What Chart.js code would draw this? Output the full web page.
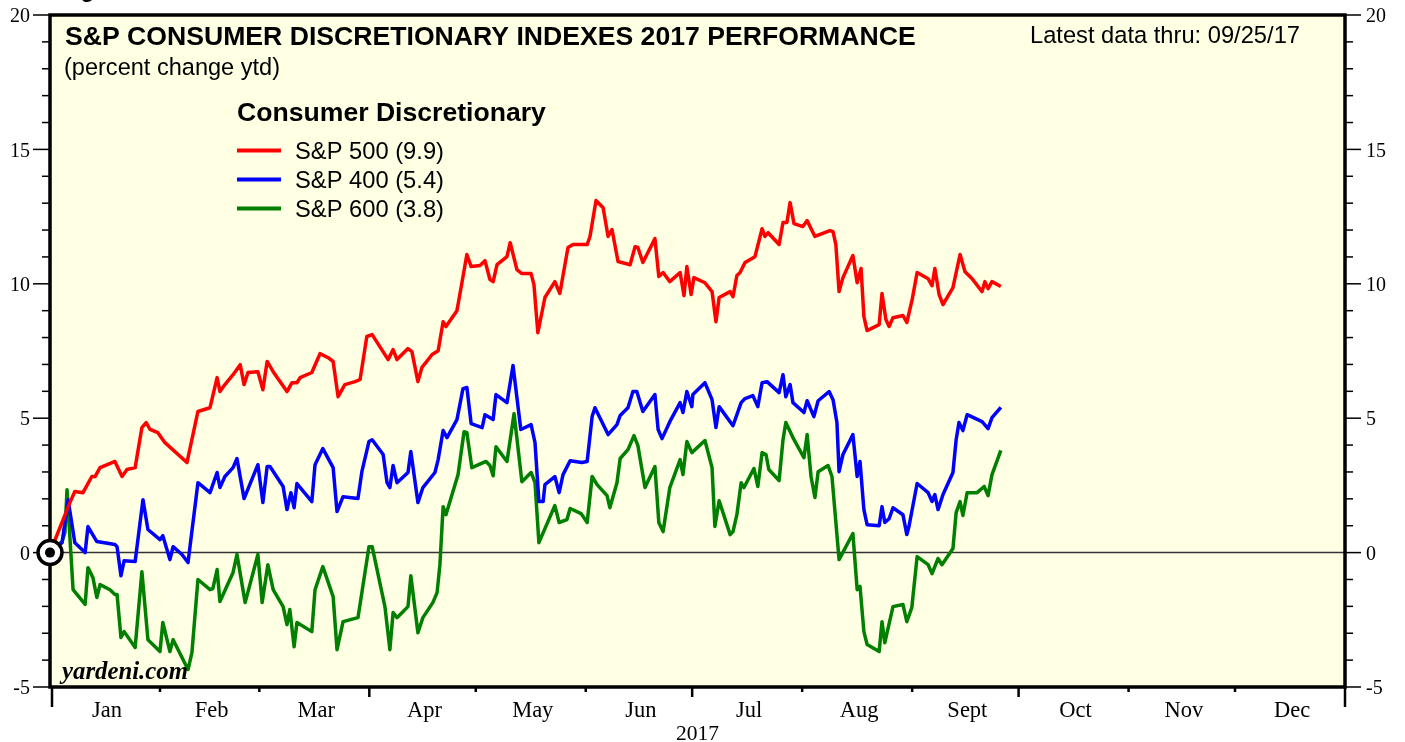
<!DOCTYPE html>
<html>
<head>
<meta charset="utf-8">
<script src="https://cdn.jsdelivr.net/npm/chart.js@4.4.1/dist/chart.umd.min.js"></script>
<style>
  body { margin: 0; background: #fff; }
  #wrap { width: 1405px; height: 742px; }
</style>
</head>
<body>
<div id="wrap"><canvas id="chart" width="1405" height="742"></canvas></div>
<script>
// axis data
const months = ['Jan', 'Feb', 'Mar', 'Apr', 'May', 'Jun', 'Jul', 'Aug', 'Sept', 'Oct', 'Nov', 'Dec'];
const monthStarts = [0, 31, 59, 90, 120, 151, 181, 212, 243, 273, 304, 334, 365];
const yLabels = [-5, 0, 5, 10, 15, 20];
const seriesNames = ['S&P 500 (9.9)', 'S&P 400 (5.4)', 'S&P 600 (3.8)'];
const seriesColors = ['#ff0000', '#0000ff', '#007f00'];

// day of year (Jan 1 = 0) and percent change ytd
const sp500Days = [0, 5.6, 7.0, 9.3, 11.8, 12.7, 14.1, 17.5, 18.3, 20.3, 21.7, 24.0, 25.9, 27.1, 28.2, 30.4, 32.4, 38.6, 41.7, 45.1,
  47.1, 47.9, 49.3, 51.6, 53.6, 54.7, 55.8, 58.6, 60.0, 61.2, 62.9, 66.8, 68.2, 69.6, 70.5, 73.8, 76.1, 78.4, 79.8, 81.2,
  83.1, 86.0, 87.4, 89.3, 90.8, 95.3, 96.7, 97.8, 100.9, 102.0, 103.7, 104.8, 107.7, 109.4, 110.8, 111.6, 114.7, 116.1, 117.5, 118.7,
  121.2, 122.6, 124.0, 124.9, 126.0, 128.8, 129.7, 131.6, 133.0, 135.6, 136.4, 137.5, 139.5, 142.3, 143.7, 146.0, 147.4, 151.4, 152.2, 153.9,
  155.9, 157.3, 158.4, 160.1, 163.5, 164.9, 165.7, 167.1, 170.5, 171.6, 172.8, 174.7, 177.6, 178.7, 179.5, 180.7, 181.5, 184.6, 186.6, 187.7,
  188.6, 191.7, 192.5, 193.6, 194.5, 195.9, 198.7, 200.7, 201.5, 202.4, 205.5, 206.6, 207.7, 208.6, 209.7, 212.2, 213.4, 215.6, 219.8, 220.7,
  221.5, 222.4, 223.5, 226.3, 227.5, 228.6, 229.4, 230.3, 233.7, 234.5, 235.6, 236.5, 237.6, 240.4, 241.5, 243.0, 244.4, 247.5, 248.6, 249.4,
  250.6, 251.7, 254.5, 256.5, 257.9, 259.9, 262.7, 263.5, 264.4, 265.5, 268.0];
const sp500 = [0, 1.86, 2.27, 2.23, 2.83, 2.83, 3.16, 3.35, 3.39, 2.83, 3.09, 3.16, 4.65, 4.84, 4.58, 4.46, 4.09, 3.35, 5.25, 5.39,
  6.51, 5.99, 6.25, 6.62, 6.99, 6.25, 6.70, 6.73, 6.06, 7.11, 6.73, 5.99, 6.32, 6.32, 6.51, 6.70, 7.40, 7.25, 7.11, 5.80,
  6.25, 6.36, 6.44, 8.04, 8.11, 7.18, 7.55, 7.18, 7.59, 7.48, 6.36, 6.88, 7.37, 7.51, 8.59, 8.41, 9.00, 10.04, 11.09, 10.64,
  10.68, 10.86, 10.16, 10.08, 10.71, 11.01, 11.53, 10.53, 10.38, 10.38, 9.97, 8.18, 9.49, 10.08, 9.64, 11.35, 11.46, 11.46, 11.76, 13.10,
  12.83, 11.76, 12.02, 10.83, 10.71, 11.38, 11.35, 10.79, 11.68, 10.27, 10.42, 10.08, 10.42, 9.56, 10.64, 9.60, 10.23, 10.04, 9.71, 8.59,
  9.49, 9.71, 9.52, 10.31, 10.42, 10.79, 11.01, 12.05, 11.76, 11.90, 11.46, 12.28, 12.28, 13.02, 12.24, 12.13, 12.35, 11.76, 11.98, 11.94,
  11.46, 9.71, 10.23, 11.05, 10.04, 10.57, 8.78, 8.26, 8.48, 9.64, 8.67, 8.41, 8.74, 8.82, 8.56, 9.41, 10.42, 10.19, 9.93, 10.57,
  9.60, 9.23, 9.86, 11.09, 10.45, 10.19, 9.71, 10.08, 9.82, 10.08, 9.9];

const sp400Days = [0, 3.4, 5.1, 7.0, 9.9, 10.7, 13.2, 18.3, 18.9, 20.0, 20.9, 24.0, 26.2, 27.6, 31.0, 31.8, 33.8, 34.7, 37.2, 38.9,
  41.7, 45.1, 47.1, 47.9, 49.3, 51.6, 52.7, 54.7, 58.6, 60.0, 61.2, 62.0, 65.7, 66.8, 67.9, 68.8, 69.6, 73.8, 74.7, 76.9,
  79.8, 80.9, 82.6, 86.8, 87.9, 89.9, 90.8, 93.9, 95.0, 95.8, 96.7, 97.8, 100.9, 101.7, 103.7, 105.1, 108.5, 109.4, 110.8, 111.9,
  114.7, 116.4, 117.5, 118.7, 121.8, 122.6, 124.9, 125.7, 128.8, 130.5, 132.7, 135.6, 136.7, 137.8, 139.0, 139.5, 142.3, 143.5, 144.6, 146.6,
  149.9, 151.4, 152.8, 153.6, 157.3, 159.8, 160.7, 162.9, 164.3, 165.4, 167.1, 170.5, 171.4, 172.5, 174.7, 177.6, 178.4, 179.5, 180.9, 181.2,
  184.6, 186.6, 187.7, 188.6, 192.5, 194.8, 195.9, 198.1, 199.5, 200.7, 202.1, 205.5, 206.6, 207.4, 208.6, 209.4, 212.5, 213.4, 215.3, 216.5,
  219.6, 220.7, 221.8, 222.4, 223.5, 226.3, 227.5, 228.3, 229.4, 230.3, 233.7, 234.5, 235.3, 236.5, 237.6, 240.4, 241.5, 242.1, 244.4, 247.5,
  248.6, 249.4, 250.3, 251.7, 254.5, 255.4, 256.2, 257.3, 258.5, 262.7, 264.4, 265.5, 268.0];
const sp400 = [0, 0.37, 1.97, 0.37, 0.00, 0.97, 0.41, 0.30, 0.22, -0.86, -0.30, -0.33, 1.97, 0.86, 0.48, 0.63, -0.26, 0.22, -0.07, -0.37,
  2.60, 2.23, 2.98, 2.42, 2.83, 3.16, 3.50, 2.01, 3.27, 1.86, 3.20, 3.20, 2.46, 1.60, 2.23, 1.67, 2.57, 1.90, 3.27, 3.87,
  3.16, 1.53, 2.08, 2.01, 3.01, 4.13, 4.20, 3.65, 2.60, 2.42, 3.24, 2.60, 2.98, 3.76, 1.86, 2.42, 2.98, 3.46, 4.54, 4.28,
  4.95, 6.10, 6.14, 4.80, 4.65, 5.13, 4.95, 5.88, 5.58, 6.96, 4.58, 4.76, 4.09, 1.90, 1.90, 2.53, 2.83, 2.23, 2.90, 3.42,
  3.35, 3.39, 5.06, 5.39, 4.39, 4.76, 5.10, 5.39, 5.99, 5.99, 5.25, 5.88, 4.58, 4.24, 4.87, 5.58, 5.21, 5.99, 5.43, 5.88,
  6.32, 5.69, 4.65, 5.43, 4.72, 5.58, 5.73, 5.84, 5.43, 6.32, 6.36, 5.95, 6.62, 5.80, 6.25, 5.58, 5.21, 5.65, 5.06, 5.65,
  5.99, 5.69, 4.84, 3.01, 3.65, 4.39, 2.83, 3.39, 1.60, 1.04, 1.00, 1.71, 1.12, 1.26, 1.67, 1.41, 0.67, 0.97, 2.57, 2.23,
  1.90, 2.16, 1.60, 2.16, 2.98, 4.20, 4.84, 4.54, 5.13, 4.87, 4.61, 5.02, 5.4];

const sp600Days = [0, 3.4, 4.2, 4.8, 6.5, 9.9, 10.7, 12.1, 13.2, 14.1, 16.9, 18.3, 18.9, 20.0, 20.9, 24.0, 25.9, 27.6, 31.0, 31.8,
  33.8, 34.7, 38.9, 40.0, 41.7, 45.1, 45.9, 47.1, 47.9, 51.6, 52.7, 55.0, 58.6, 59.8, 61.4, 62.9, 65.7, 66.8, 67.6, 68.8,
  69.6, 73.8, 74.7, 76.9, 79.8, 80.9, 82.6, 86.8, 87.9, 89.9, 90.8, 94.4, 95.8, 96.7, 97.8, 100.9, 101.7, 103.7, 105.1, 107.9,
  109.1, 109.9, 110.8, 111.6, 115.0, 116.7, 117.5, 118.9, 122.9, 124.0, 124.9, 125.7, 128.8, 130.8, 133.0, 135.6, 136.7, 137.8, 142.3, 143.5,
  145.7, 146.6, 149.7, 151.4, 152.8, 154.2, 157.0, 157.8, 159.8, 160.7, 162.9, 164.6, 165.7, 167.7, 170.5, 171.6, 172.8, 174.7, 177.6, 178.4,
  179.5, 180.9, 184.6, 186.6, 187.4, 188.6, 191.7, 192.5, 193.6, 194.8, 195.6, 198.4, 199.5, 200.7, 201.8, 202.6, 205.5, 206.6, 207.4, 209.4,
  212.5, 213.4, 214.5, 215.6, 216.5, 219.3, 220.4, 222.4, 226.3, 227.5, 228.3, 229.4, 230.3, 233.7, 234.5, 235.3, 237.6, 240.4, 241.5, 242.9,
  244.4, 247.5, 248.6, 250.3, 251.4, 254.5, 255.4, 256.5, 257.3, 258.5, 261.3, 263.3, 264.4, 265.5, 268.0];
const sp600 = [0, 0.41, 0.74, 2.34, -1.38, -1.93, -0.56, -0.93, -1.67, -1.19, -1.38, -1.56, -1.56, -3.16, -2.94, -3.53, -0.71, -3.24, -3.68, -2.60,
  -3.68, -3.24, -4.35, -3.72, -1.00, -1.38, -1.34, -0.63, -1.82, -0.74, -0.07, -1.86, -0.07, -1.86, -0.45, -1.38, -2.01, -2.68, -2.12, -3.50,
  -2.60, -2.94, -1.38, -0.52, -1.64, -3.61, -2.57, -2.42, -1.49, 0.22, 0.22, -2.01, -3.61, -2.23, -2.42, -2.01, -0.86, -2.98, -2.42, -1.86,
  -1.49, -0.45, 1.71, 1.41, 2.90, 4.50, 4.46, 3.16, 3.39, 3.24, 2.86, 3.94, 3.39, 5.17, 2.64, 2.98, 2.60, 0.37, 1.75, 1.12,
  1.23, 1.64, 1.45, 1.12, 2.83, 2.53, 2.12, 1.67, 2.60, 3.50, 3.83, 4.35, 3.98, 2.42, 3.20, 1.12, 0.78, 2.42, 3.46, 2.90,
  4.13, 3.72, 4.17, 3.16, 0.97, 1.93, 0.67, 0.78, 1.41, 2.60, 2.42, 3.13, 2.46, 3.72, 3.65, 3.09, 2.68, 4.20, 4.84, 4.28,
  3.53, 4.39, 2.83, 2.05, 3.01, 3.24, 2.83, -0.26, 0.71, -1.38, -1.26, -2.94, -3.42, -3.68, -2.57, -3.35, -2.01, -1.93, -2.57, -2.05,
  -0.15, -0.45, -0.78, -0.22, -0.45, 0.15, 1.49, 1.90, 1.38, 2.23, 2.23, 2.46, 2.12, 2.90, 3.8];

const SANS = '"Liberation Sans", Arial, Helvetica, sans-serif';
const SERIF = '"Liberation Serif", "Times New Roman", serif';

function pairs(days, vals) {
  return days.map((d, i) => ({ x: d, y: vals[i] }));
}

// set a font whose rendered width matches the width measured on the picture
function fitFont(ctx, text, weight, family, width) {
  ctx.font = `${weight} 100px ${family}`;
  const size = 100 * width / ctx.measureText(text).width;
  ctx.font = `${weight} ${size.toFixed(2)}px ${family}`;
  return size;
}

function seg(ctx, x1, y1, x2, y2) {
  ctx.beginPath();
  ctx.moveTo(x1, y1);
  ctx.lineTo(x2, y2);
  ctx.stroke();
}

const decor = {
  id: 'decor',
  beforeDatasetsDraw(chart) {
    const { ctx, chartArea: a, scales: { y } } = chart;
    ctx.save();
    ctx.fillStyle = '#ffffe4';
    ctx.fillRect(a.left, a.top, a.right - a.left, a.bottom - a.top);
    ctx.strokeStyle = '#333';
    ctx.lineWidth = 1.5;
    const y0 = y.getPixelForValue(0);
    seg(ctx, a.left, y0, a.right, y0);
    ctx.restore();
  },
  afterDatasetsDraw(chart) {
    const { ctx, chartArea: a, scales: { x, y } } = chart;
    ctx.save();
    ctx.strokeStyle = '#000';
    ctx.fillStyle = '#000';

    // y ticks, both sides
    ctx.lineWidth = 1.5;
    for (let v = -5; v <= 20; v++) {
      const py = y.getPixelForValue(v);
      const major = v % 5 === 0;
      seg(ctx, a.left - (major ? 17 : 8), py, a.left, py);
      seg(ctx, a.right, py, a.right + (major ? 16 : 8), py);
    }
    ctx.font = `20px ${SERIF}`;
    ctx.textBaseline = 'middle';
    yLabels.forEach(v => {
      const py = y.getPixelForValue(v) + 2;
      ctx.textAlign = 'right';
      ctx.fillText(String(v), 30, py);
      ctx.textAlign = 'left';
      ctx.fillText(String(v), a.right + 21, py);
    });

    // month ticks and labels
    ctx.lineWidth = 2.5;
    monthStarts.forEach((d, i) => {
      const px = x.getPixelForValue(d);
      let len = 5;
      if (i % 3 === 0) len = 10;
      if (i === 0 || i === 12) len = 20;
      seg(ctx, i === 0 ? px + 2 : px, a.bottom, i === 0 ? px + 2 : px, a.bottom + len);
    });
    ctx.font = `22.5px ${SERIF}`;
    ctx.textAlign = 'center';
    ctx.textBaseline = 'alphabetic';
    months.forEach((m, i) => {
      const px = x.getPixelForValue((monthStarts[i] + monthStarts[i + 1]) / 2);
      ctx.fillText(m, px + 2, 717);
    });
    ctx.font = `21.5px ${SERIF}`;
    ctx.fillText('2017', (a.left + a.right) / 2, 740);

    // frame
    ctx.lineWidth = 3.5;
    ctx.strokeRect(a.left, a.top, a.right - a.left, a.bottom - a.top);

    // origin marker
    const ox = x.getPixelForValue(0), oy = y.getPixelForValue(0);
    ctx.beginPath();
    ctx.arc(ox, oy, 12, 0, Math.PI * 2);
    ctx.fillStyle = '#fff';
    ctx.fill();
    ctx.lineWidth = 3.5;
    ctx.stroke();
    ctx.beginPath();
    ctx.arc(ox, oy, 5, 0, Math.PI * 2);
    ctx.fillStyle = '#000';
    ctx.fill();

    // texts
    ctx.textAlign = 'left';
    ctx.textBaseline = 'alphabetic';
    fitFont(ctx, 'Figure 3.', 'bold', SANS, 96);
    ctx.fillText('Figure 3.', 60, -3);
    fitFont(ctx, 'S&P CONSUMER DISCRETIONARY INDEXES 2017 PERFORMANCE', 'bold', SANS, 851);
    ctx.fillText('S&P CONSUMER DISCRETIONARY INDEXES 2017 PERFORMANCE', 65, 45);
    fitFont(ctx, '(percent change ytd)', 'normal', SANS, 216);
    ctx.fillText('(percent change ytd)', 64, 75);
    fitFont(ctx, 'Latest data thru: 09/25/17', 'normal', SANS, 270);
    ctx.fillText('Latest data thru: 09/25/17', 1030, 43);
    fitFont(ctx, 'Consumer Discretionary', 'bold', SANS, 309);
    ctx.fillText('Consumer Discretionary', 237, 121);

    // legend
    fitFont(ctx, seriesNames[0], 'normal', SANS, 149);
    const legendY = [150.5, 179.5, 208.5];
    seriesNames.forEach((name, i) => {
      ctx.strokeStyle = seriesColors[i];
      ctx.lineWidth = 4;
      seg(ctx, 237, legendY[i], 281, legendY[i]);
      ctx.fillStyle = '#000';
      ctx.fillText(name, 295, legendY[i] + 8);
    });

    ctx.fillStyle = '#000';
    fitFont(ctx, 'yardeni.com', 'italic bold', SERIF, 126);
    ctx.fillText('yardeni.com', 62, 679);
    ctx.restore();
  }
};

const ctx = document.getElementById('chart').getContext('2d');
new Chart(ctx, {
  type: 'line',
  data: {
    datasets: [
      { label: seriesNames[0], data: pairs(sp500Days, sp500), borderColor: seriesColors[0] },
      { label: seriesNames[1], data: pairs(sp400Days, sp400), borderColor: seriesColors[1] },
      { label: seriesNames[2], data: pairs(sp600Days, sp600), borderColor: seriesColors[2] }
    ].map(ds => Object.assign(ds, { borderWidth: 3.5, pointRadius: 0, tension: 0, fill: false, borderJoinStyle: 'round' }))
  },
  options: {
    responsive: false,
    animation: false,
    layout: { padding: { left: 50, right: 60, top: 15, bottom: 55 } },
    plugins: { legend: { display: false }, tooltip: { enabled: false } },
    scales: {
      x: { type: 'linear', min: 0, max: 365, display: false },
      y: { type: 'linear', min: -5, max: 20, display: false }
    }
  },
  plugins: [decor]
});
</script>
</body>
</html>
